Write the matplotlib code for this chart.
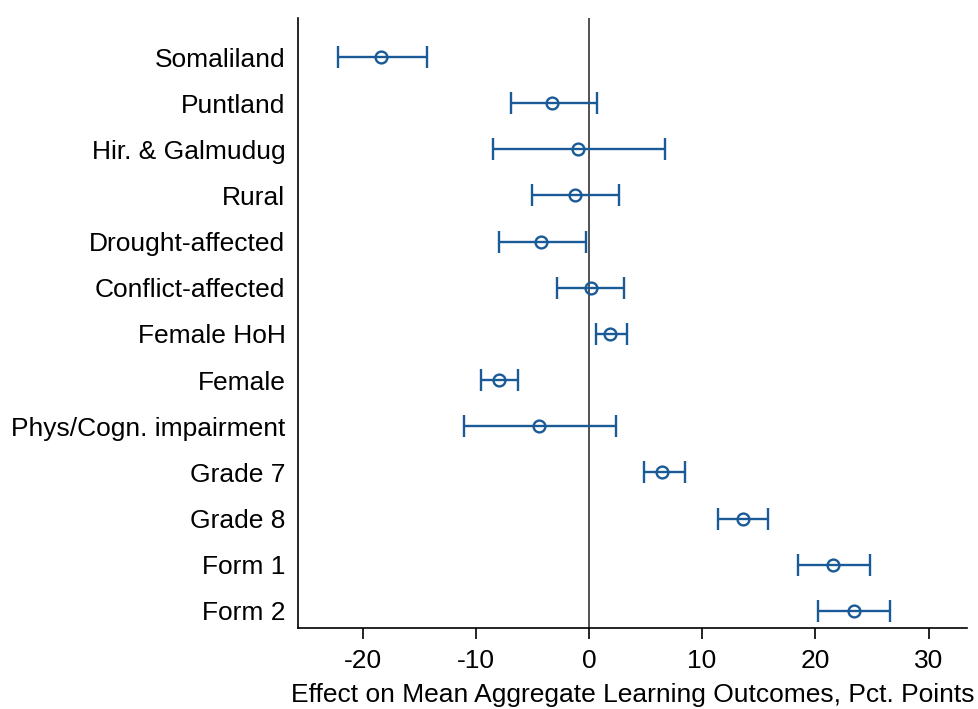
import matplotlib
matplotlib.use("Agg")
import matplotlib.pyplot as plt

plt.rcParams['font.family'] = ['Liberation Sans', 'DejaVu Sans']
plt.rcParams['axes.unicode_minus'] = False

labels = ['Somaliland', 'Puntland', 'Hir. & Galmudug', 'Rural', 'Drought-affected',
          'Conflict-affected', 'Female HoH', 'Female', 'Phys/Cogn. impairment',
          'Grade 7', 'Grade 8', 'Form 1', 'Form 2']
est = [-18.4, -3.3, -1.0, -1.2, -4.2, 0.2, 1.9, -7.9, -4.4, 6.5, 13.6, 21.6, 23.4]
lo = [-22.2, -6.9, -8.5, -5.0, -7.9, -2.8, 0.6, -9.5, -11.0, 4.9, 11.4, 18.5, 20.2]
hi = [-14.3, 0.7, 6.7, 2.7, -0.3, 3.1, 3.35, -6.3, 2.4, 8.5, 15.8, 24.8, 26.6]

col = '#1a5a96'
pos = list(range(len(labels)))
err = [[e - l for e, l in zip(est, lo)], [h - e for e, h in zip(est, hi)]]

fig = plt.figure(figsize=(9.79, 7.09), dpi=100)
ax = fig.add_axes([298/979, 1 - 628/709, (967-298)/979, (628-18)/709])

ax.axvline(0, color='#333333', lw=1.2, zorder=1)
ax.errorbar(est, pos, xerr=err, fmt='o', mfc='none', mec=col, ms=8.5, mew=1.7,
            ecolor=col, elinewidth=1.7, capsize=8, capthick=1.7, color=col, zorder=3)

ax.set_ylim(12.37, -0.845)
ax.set_xlim(-25.7, 33.4)
ax.set_yticks(pos)
ax.set_yticklabels(labels, fontsize=19)
ax.tick_params(axis='y', length=0, pad=9)
ax.set_xticks([-20, -10, 0, 10, 20, 30])
ax.tick_params(axis='x', labelsize=19, length=8, width=1.2, pad=7)
ax.spines['top'].set_visible(False)
ax.spines['right'].set_visible(False)
for s in ['left', 'bottom']:
    ax.spines[s].set_linewidth(1.2)
ax.set_xlabel('Effect on Mean Aggregate Learning Outcomes, Pct. Points', fontsize=19, labelpad=7)

fig.savefig('out.png', dpi=100)
